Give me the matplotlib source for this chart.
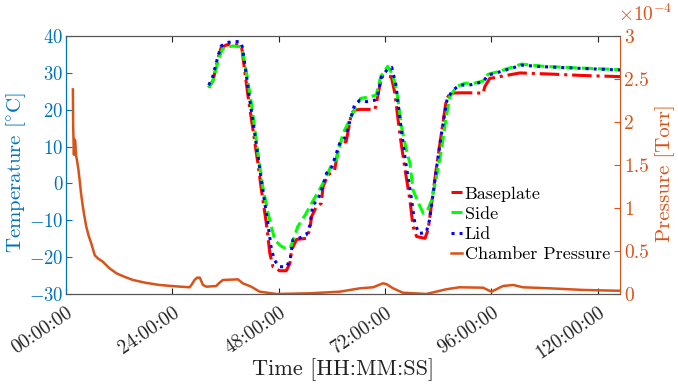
import matplotlib
matplotlib.use("Agg")
import matplotlib.pyplot as plt

plt.rcParams['font.family'] = ['cmr10', 'DejaVu Serif']
plt.rcParams['mathtext.fontset'] = 'cm'
plt.rcParams['axes.unicode_minus'] = False
plt.rcParams['axes.formatter.use_mathtext'] = True

# hours since start, temperature in degC
base_t = [32.2, 33.2, 34.3, 35.0, 36.2, 37.7, 39.2, 39.7, 40.3, 41.1, 42.2, 43.3, 44.1,
          45.2, 46.0, 46.7, 48.2, 49.7, 50.5, 50.9, 52.0, 54.2, 55.0, 55.4, 56.5, 57.6,
          58.0, 59.1, 60.6, 61.4, 61.8, 63.2, 64.4, 65.1, 66.3, 69.7, 70.0, 71.2, 72.3,
          73.4, 74.2, 75.3, 76.4, 77.6, 78.3, 79.1, 81.0, 81.7, 82.5, 83.6, 84.7, 85.8,
          86.6, 88.8, 91.1, 94.1, 94.5, 95.6, 97.9, 102.4, 109.2, 116.7, 125.0]
base_T = [26.0, 28.0, 34.0, 36.8, 37.6, 37.8, 37.6, 36.5, 30.8, 23.5, 14.5, 5.5, -1.8,
          -10.8, -19.0, -22.6, -23.7, -23.7, -21.7, -18.1, -15.2, -14.9, -12.6, -9.0, -6.3, -5.4,
          -0.9, 2.3, 3.6, 9.1, 11.3, 11.3, 19.0, 19.9, 20.1, 20.1, 21.7, 29.0, 29.0,
          29.0, 24.5, 13.6, 4.5, -4.5, -11.7, -14.4, -14.9, -12.6, -5.4, 4.5, 13.6, 22.6,
          24.5, 24.6, 24.6, 24.5, 26.3, 28.5, 29.0, 30.0, 29.7, 29.3, 29.0]

side_t = [32.2, 33.2, 34.5, 35.3, 36.5, 37.7, 39.4, 40.0, 40.8, 41.8, 42.8, 43.3, 44.4,
          45.6, 47.1, 48.5, 49.5, 50.6, 52.3, 54.0, 55.4, 56.8, 58.4, 60.2, 61.0, 62.5,
          64.0, 65.5, 66.5, 68.5, 70.0, 71.0, 72.6, 73.7, 74.6, 75.7, 76.8, 77.6, 78.3,
          79.4, 80.6, 81.5, 82.5, 83.6, 84.7, 85.8, 86.6, 88.1, 90.0, 92.0, 94.1, 95.2,
          97.9, 102.8, 107.6, 116.7, 125.0]
side_T = [26.0, 28.0, 34.0, 36.5, 37.1, 37.3, 37.1, 35.0, 29.5, 22.0, 13.0, 8.2, -0.9,
          -8.1, -15.3, -17.0, -17.6, -17.6, -11.7, -8.5, -5.4, -2.5, 0.9, 5.9, 6.4, 13.6,
          17.2, 21.0, 23.1, 23.5, 24.0, 29.0, 31.8, 29.5, 25.4, 15.4, 9.1, 5.5, -1.8,
          -5.0, -8.1, -7.5, -4.5, 1.8, 9.1, 18.1, 23.5, 26.3, 27.2, 27.2, 27.8, 29.6,
          30.5, 32.4, 31.8, 31.3, 30.9]

lid_t = [32.2, 33.0, 34.3, 35.0, 36.2, 37.7, 39.3, 39.8, 40.5, 41.3, 42.4, 43.5, 44.3,
         45.4, 46.3, 47.0, 48.2, 49.8, 50.6, 51.2, 52.7, 54.2, 55.0, 55.7, 56.8, 57.6,
         58.8, 60.0, 61.0, 62.0, 63.0, 64.2, 65.1, 66.3, 67.8, 69.7, 70.3, 71.2, 72.7,
         73.5, 74.4, 75.5, 76.6, 77.8, 78.6, 79.5, 80.2, 81.3, 82.0, 82.8, 83.8, 84.9,
         86.0, 87.3, 88.8, 91.0, 94.1, 95.2, 97.9, 102.8, 107.6, 116.7, 125.0]
lid_T = [26.7, 28.5, 34.5, 37.3, 38.2, 38.5, 38.5, 37.0, 31.0, 24.0, 15.0, 6.0, -1.0,
         -9.5, -17.5, -20.8, -22.6, -22.6, -20.5, -15.3, -14.8, -14.0, -11.5, -5.8, -4.5, -2.0,
         2.8, 4.5, 8.2, 11.5, 12.5, 17.5, 21.3, 22.6, 22.2, 22.6, 24.0, 29.0, 31.2,
         31.5, 27.0, 16.0, 6.0, -3.0, -10.0, -13.5, -13.5, -13.2, -10.0, -3.0, 6.0, 15.0,
         23.0, 25.3, 26.7, 26.7, 27.6, 29.4, 30.3, 32.1, 31.7, 31.2, 30.8]

# chamber pressure, units of 1e-4 Torr
pres_t = [1.56, 1.62, 1.80, 1.90, 2.10, 2.25, 2.50, 2.8, 3.07, 3.4, 3.8, 4.2, 4.6, 5.1,
          5.7, 6.5, 7.3, 8.3, 9.8, 11.4, 13.2, 15.1, 18.0, 21.1, 24.5, 27.9, 28.5, 29.0,
          29.6, 30.2, 30.9, 31.7, 33.9, 34.6, 35.4, 38.8, 39.9, 41.8, 43.7, 47.5, 55.0,
          61.8, 66.3, 69.3, 71.5, 72.3, 73.8, 76.0, 81.3, 85.8, 88.8, 94.1, 96.0, 98.6,
          100.9, 103.1, 109.2, 116.7, 124.2, 125.0]
pres_P = [2.38, 1.95, 1.62, 1.80, 1.78, 1.62, 1.55, 1.45, 1.33, 1.17, 1.02, 0.89, 0.78, 0.68,
          0.59, 0.45, 0.41, 0.376, 0.30, 0.24, 0.20, 0.163, 0.13, 0.105, 0.09, 0.078, 0.12, 0.163,
          0.19, 0.19, 0.105, 0.085, 0.093, 0.13, 0.163, 0.17, 0.124, 0.085, 0.027, 0.0, 0.008,
          0.027, 0.066, 0.078, 0.124, 0.115, 0.066, 0.015, 0.0, 0.055, 0.078, 0.073, 0.027, 0.093,
          0.105, 0.078, 0.066, 0.047, 0.038, 0.038]

hour_ticks = [0, 24, 48, 72, 96, 120]
hour_labels = ['%02d:00:00' % h for h in hour_ticks]

c_left = (0, 0.447, 0.741)
c_right = (0.85, 0.325, 0.098)

fig = plt.figure(figsize=(6.78, 3.88), dpi=100)
ax = fig.add_axes([0.0973, 0.2423, 0.8172, 0.6647])
ax2 = ax.twinx()

l1, = ax.plot(base_t, base_T, color=(1, 0, 0), ls='-.', lw=2.2, label='Baseplate')
l2, = ax.plot(side_t, side_T, color=(0, 1, 0), ls='--', lw=2.2, label='Side')
l3, = ax.plot(lid_t, lid_T, color=(0, 0, 1), ls=':', lw=2.2, label='Lid')
l4, = ax2.plot(pres_t, pres_P, color=c_right, lw=1.8, label='Chamber Pressure')

ax.set_xlim(0, 125)
ax.set_ylim(-30, 40)
ax2.set_ylim(0, 3)
ax.set_yticks(range(-30, 41, 10))
ax2.set_yticks([0, 0.5, 1, 1.5, 2, 2.5, 3])
ax2.set_yticklabels(['0', '0.5', '1', '1.5', '2', '2.5', '3'])
ax.set_xticks(hour_ticks)
ax.set_xticklabels(hour_labels, rotation=34, ha='right', rotation_mode='anchor')

for a in (ax, ax2):
    a.tick_params(direction='in', length=4, labelsize=14)
    a.spines['top'].set_color('#555555')
    a.spines['bottom'].set_color('#555555')
ax.tick_params(axis='x', top=True, colors='#222222', pad=7)
ax.tick_params(axis='y', colors=c_left, pad=2, labelsize=13.5)
ax2.tick_params(axis='y', colors=c_right, pad=3)
ax.spines['left'].set_color(c_left)
ax2.spines['left'].set_color(c_left)
ax2.spines['right'].set_color(c_right)
ax.spines['right'].set_visible(False)

ax.set_ylabel(r'Temperature [$^{\circ}$C]', color=c_left, fontsize=15, va='center')
ax.yaxis.set_label_coords(-0.09, 0.47)
ax2.set_ylabel('Pressure [Torr]', color=c_right, fontsize=15, va='center')
ax2.yaxis.set_label_coords(1.081, 0.47)
ax.set_xlabel('Time [HH:MM:SS]', color='#222222', fontsize=16, va='center')
ax.xaxis.set_label_coords(0.5, -0.295)
fig.text(0.912, 0.945, r'$\times10^{-4}$', color=c_right, fontsize=14)

ax2.legend(handles=[l1, l2, l3, l4], loc='upper left',
           bbox_to_anchor=(451 / 678, 1 - 186 / 388), bbox_transform=fig.transFigure,
           frameon=False, fontsize=13, handlelength=0.6, handletextpad=0.15,
           labelspacing=0.25, borderpad=0, borderaxespad=0)

fig.savefig('out.png', dpi=100)
